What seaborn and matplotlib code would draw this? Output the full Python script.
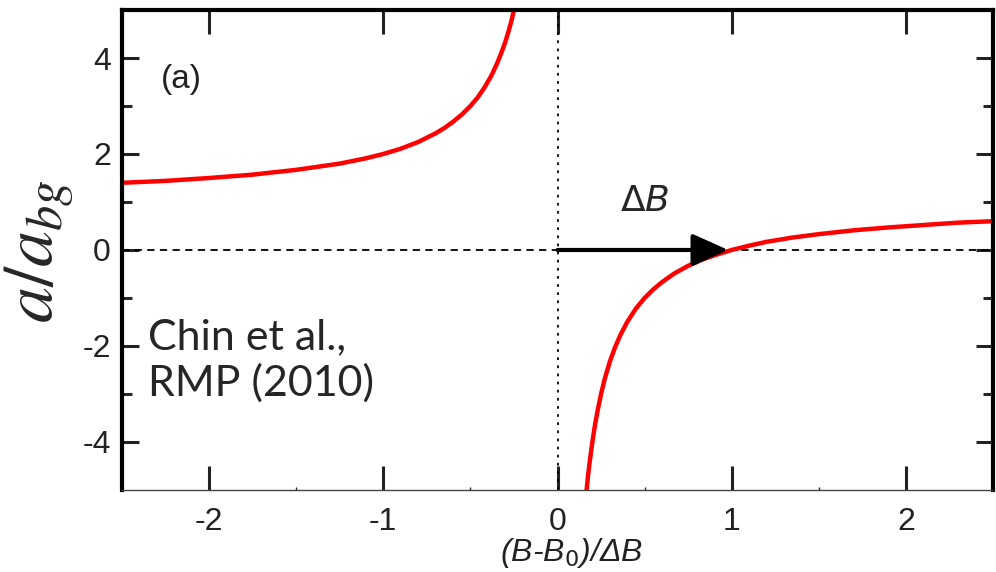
import numpy as np
import pandas as pd
import matplotlib
matplotlib.use("Agg")
import matplotlib.pyplot as plt
import seaborn as sns

# Values
left_x = [-2.5, -2.25, -2.0, -1.75, -1.5, -1.25, -1.1, -1.0, -0.9, -0.8, -0.7, -0.65,
          -0.6, -0.55, -0.5, -0.46, -0.42, -0.38, -0.35, -0.32, -0.3, -0.28, -0.265, -0.25]
left_y = [1.4, 1.44, 1.5, 1.57, 1.67, 1.8, 1.91, 2.0, 2.11, 2.25, 2.43, 2.54,
          2.67, 2.82, 3.0, 3.17, 3.38, 3.63, 3.86, 4.13, 4.33, 4.57, 4.77, 5.0]
right_x = [0.167, 0.175, 0.185, 0.2, 0.215, 0.23, 0.25, 0.27, 0.3, 0.33, 0.36, 0.4,
           0.45, 0.5, 0.55, 0.6, 0.67, 0.75, 0.83, 0.91, 1.0, 1.1, 1.2, 1.35, 1.5,
           1.7, 1.9, 2.1, 2.3, 2.5]
right_y = [-5.0, -4.71, -4.41, -4.0, -3.65, -3.35, -3.0, -2.7, -2.33, -2.03, -1.78, -1.5,
           -1.22, -1.0, -0.82, -0.67, -0.49, -0.33, -0.2, -0.1, 0.0, 0.09, 0.17, 0.26, 0.33,
           0.41, 0.47, 0.52, 0.57, 0.6]
x_ticks = [-2, -1, 0, 1, 2]
y_ticks = [-4, -2, 0, 2, 4]
arrow_end = 0.98

sns.set_style("ticks")
sans = ["Liberation Sans", "DejaVu Sans"]
plt.rcParams["font.family"] = sans

fig = plt.figure(figsize=(9.96, 5.72), dpi=100)
ax = fig.add_axes([0.1225, 0.1434, 0.8745, 0.8391])

df_l = pd.DataFrame({"x": left_x, "y": left_y})
df_r = pd.DataFrame({"x": right_x, "y": right_y})
sns.lineplot(data=df_l, x="x", y="y", ax=ax, color="#ff0000", lw=3.2, sort=False)
sns.lineplot(data=df_r, x="x", y="y", ax=ax, color="#ff0000", lw=3.2, sort=False)

ax.axhline(0, color="black", lw=1.3, ls=(0, (4, 3)), zorder=1)
ax.axvline(0, color="black", lw=1.3, ls=(0, (1.5, 3)), zorder=1)

ax.annotate("", xy=(arrow_end, 0), xytext=(0, 0),
            arrowprops=dict(arrowstyle="-|>,head_length=1.0,head_width=0.45", lw=3,
                            color="black", mutation_scale=22, shrinkA=0, shrinkB=0),
            zorder=3)

ax.set_xlim(-2.5, 2.5)
ax.set_ylim(-5, 5)
ax.set_xticks(x_ticks)
ax.set_yticks(y_ticks)
ax.set_xticks([-1.5, -0.5, 0.5, 1.5], minor=True)
ax.set_yticks([-3, -1, 1, 3], minor=True)
ax.set_xticklabels([str(v) for v in x_ticks])
ax.set_yticklabels([str(v) for v in y_ticks])

ax.tick_params(axis="both", which="major", direction="in", length=12, width=2.2,
               labelsize=23, colors="#222222", top=True, right=True, pad=8)
ax.tick_params(axis="y", which="minor", direction="in", length=7, width=2.2, right=True)
ax.tick_params(axis="x", which="minor", direction="in", length=2, width=1, top=False)
ax.tick_params(axis="x", which="major", top=True, length=17, pad=12)

for s in ["left", "top", "right"]:
    ax.spines[s].set_linewidth(3)
    ax.spines[s].set_color("black")
ax.spines["bottom"].set_linewidth(1.0)
ax.spines["bottom"].set_color("#444444")

ax.set_xlabel("")
ax.set_ylabel("")
fig.text(0.04, 0.56, r"$a/a_{bg}$", rotation=90, ha="center", va="center",
         fontsize=52, math_fontfamily="stix")
fig.text(0.574, 0.004, r"(B-B$_0$)/ΔB", ha="center", va="bottom", fontsize=23,
         style="italic", family=sans, color="#222222")

ax.text(-2.16, 3.55, "(a)", fontsize=24, ha="center", va="center", color="#222222")
ax.text(0.5, 1.0, r"$\Delta B$", fontsize=26, ha="center", va="center",
        math_fontfamily="dejavusans")
ax.text(-2.35, -2.3, "Chin et al.,\nRMP (2010)", fontsize=31, ha="left", va="center",
        family=["Lato", "DejaVu Sans"], linespacing=1.2)

fig.savefig("out.png", dpi=100)
